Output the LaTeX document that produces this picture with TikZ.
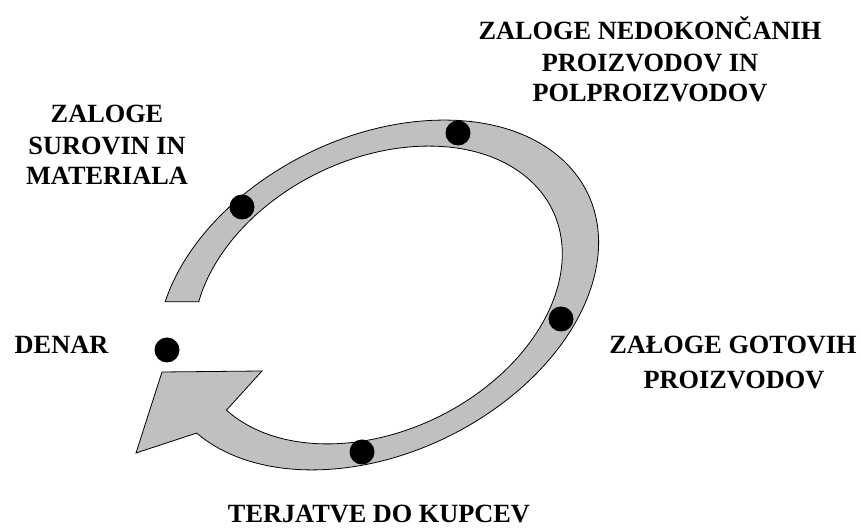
\documentclass[tikz,border=0pt]{standalone}
\usepackage{fontspec}
\setmainfont{Liberation Serif}
\begin{document}
\begin{tikzpicture}[x=1bp,y=1bp,
  band/.style={fill=bandgray, draw=black, line width=0.8bp, line join=miter},
  stage/.style={circle, fill=black, draw=none, inner sep=0pt, minimum size=25bp},
  lbl/.style={font=\bfseries\fontsize{26.4pt}{31pt}\selectfont, inner sep=0pt, anchor=base}]
\definecolor{bandgray}{RGB}{192,192,192}
\useasboundingbox (0,0) rectangle (861,529);

% arrow head corners
\coordinate (tip) at (136,76);
\coordinate (headtop) at (162,157);
\coordinate (barb) at (262,158);

% the circulating band
\begin{scope}[shift={(378,234)}, rotate=26]
  \coordinate (outS) at (146.5:233 and 158);
  \coordinate (outE) at (-163.6:233 and 158);
  \coordinate (inE) at (-164.2:194 and 136);
  \draw[band] (outS) arc[start angle=146.5, end angle=-163.6, x radius=233, y radius=158]
    -- (tip) -- (headtop) -- (barb) -- (inE)
    arc[start angle=-164.2, end angle=147.8, x radius=194, y radius=136] -- cycle;
\end{scope}

% stages
\node[stage] (denar) at (167,179) {};
\node[stage] (surovine) at (242,322) {};
\node[stage] (nedokoncani) at (458,396) {};
\node[stage] (gotovi) at (561,210) {};
\node[stage] (terjatve) at (362,77) {};

% labels
\node[lbl] (tDenar) at (61.5,175.7) {DENAR};

\node[lbl] (tSur1) at (107,406) {ZALOGE};
\node[lbl] (tSur2) at (107,374) {SUROVIN IN};
\node[lbl] (tSur3) at (107,344.7) {MATERIALA};

\node[lbl] (tNed1) at (650,489) {ZALOGE NEDOKONČANIH};
\node[lbl] (tNed2) at (650,457.5) {PROIZVODOV IN};
\node[lbl] (tNed3) at (650,427.3) {POLPROIZVODOV};

\node[lbl] (tGot1) at (733,175.7) {ZAŁOGE GOTOVIH};
\node[lbl] (tGot2) at (734,140.7) {PROIZVODOV};

\node[lbl] (tTer) at (379,6) {TERJATVE DO KUPCEV};
\end{tikzpicture}
\end{document}
